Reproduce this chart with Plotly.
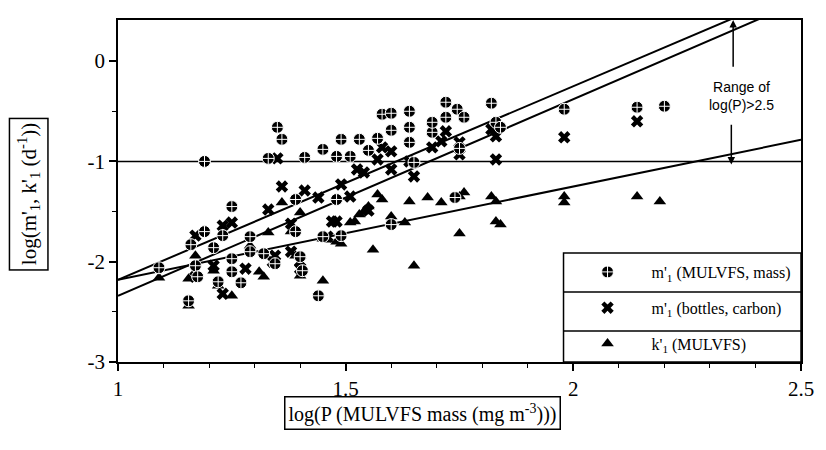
import plotly.graph_objects as go

# ---------------- data ----------------
mass_x = [1.09, 1.16, 1.17, 1.175, 1.155, 1.19, 1.19, 1.21, 1.23, 1.25, 1.25, 1.27, 1.22, 1.25,
          1.29, 1.29, 1.32, 1.345, 1.39, 1.39, 1.40, 1.405, 1.44, 1.45, 1.49, 1.33, 1.35, 1.36,
          1.41, 1.45, 1.48, 1.49, 1.51, 1.53, 1.55, 1.57, 1.58, 1.60, 1.64, 1.60, 1.64, 1.64,
          1.69, 1.69, 1.72, 1.745, 1.76, 1.72, 1.82, 1.83, 1.84, 1.75, 1.65, 1.48, 1.60, 1.74,
          1.98, 2.14, 2.20]
mass_y = [-2.06, -1.83, -2.04, -2.15, -2.39, -1.70, -1.00, -1.86, -1.74, -1.97, -2.10, -2.21, -2.20, -1.45,
          -1.75, -1.90, -1.92, -2.02, -1.70, -1.38, -1.95, -2.09, -2.34, -1.75, -1.74, -0.97, -0.66, -0.78,
          -0.96, -0.88, -0.95, -0.78, -0.95, -0.78, -0.89, -0.77, -0.53, -0.52, -0.50, -0.69, -0.66, -0.81,
          -0.71, -0.61, -0.41, -0.48, -0.56, -0.56, -0.42, -0.61, -0.66, -0.87, -1.01, -1.38, -1.63, -1.36,
          -0.48, -0.46, -0.45]

bottle_x = [1.17, 1.23, 1.25, 1.21, 1.17, 1.23, 1.28, 1.33, 1.34, 1.345, 1.35, 1.36, 1.38, 1.38,
            1.40, 1.40, 1.41, 1.44, 1.46, 1.47, 1.48, 1.49, 1.51, 1.525, 1.54, 1.55, 1.57, 1.58,
            1.60, 1.60, 1.64, 1.65, 1.69, 1.71, 1.72, 1.75, 1.75, 1.82, 1.83, 1.83, 1.98, 2.14]
bottle_y = [-1.74, -1.64, -1.61, -2.04, -2.15, -2.32, -2.07, -1.48, -2.00, -1.94, -0.97, -1.25, -1.62, -1.90,
            -2.00, -2.07, -1.29, -1.36, -1.75, -1.60, -1.60, -1.23, -1.35, -1.08, -1.11, -1.49, -0.98, -0.86,
            -0.90, -1.08, -1.00, -1.15, -0.86, -0.80, -0.70, -0.81, -0.93, -0.68, -0.75, -0.98, -0.76, -0.60]

k_x = [1.09, 1.155, 1.155, 1.17, 1.21, 1.22, 1.25, 1.29, 1.31, 1.32, 1.33, 1.36, 1.38, 1.39,
       1.40, 1.40, 1.45, 1.45, 1.48, 1.46, 1.49, 1.51, 1.52, 1.53, 1.54, 1.55, 1.56, 1.57,
       1.58, 1.60, 1.63, 1.64, 1.65, 1.68, 1.71, 1.75, 1.76, 1.75, 1.82, 1.83, 1.83, 1.84,
       1.98, 1.98, 2.14, 2.19]
k_y = [-2.16, -2.44, -2.17, -1.94, -2.09, -2.24, -2.34, -1.84, -2.10, -2.15, -1.71, -1.41, -1.70, -1.94,
       -1.51, -2.14, -2.19, -1.77, -1.80, -1.78, -1.82, -1.61, -1.60, -1.53, -1.50, -1.45, -1.88, -1.33,
       -1.38, -1.55, -1.61, -1.40, -2.04, -1.36, -1.41, -1.35, -1.31, -1.72, -1.35, -1.40, -1.60, -1.63,
       -1.35, -1.41, -1.35, -1.40]

# regression lines: value at log(P)=1 and slope
fit_at1 = [-2.18, -2.34, -2.18]
fit_slope = [1.93, 1.96, 0.93]
fit_xends = [1.0, 2.5]
ref_level = -1.0

x_ticks = [1, 1.5, 2, 2.5]
y_ticks = [-3, -2, -1, 0]
x_range = [1.0, 2.5]
y_range = [-3.0, 0.41]

legend_labels = ["m'<sub>1</sub> (MULVFS, mass)",
                 "m'<sub>1</sub> (bottles, carbon)",
                 "k'<sub>1</sub> (MULVFS)"]

SERIF = "Liberation Serif, Times New Roman, serif"
SANS = "Liberation Sans, Arial, sans-serif"

W, H = 826, 450
ML, MR, MT, MB = 118, 12, 20, 88
PW, PH = W - ML - MR, H - MT - MB


def px_x(p):
    return (p - ML) / PW


def px_y(p):
    return (H - MB - p) / PH


fig = go.Figure()

# reference line y = -1
fig.add_trace(go.Scatter(x=fit_xends, y=[ref_level, ref_level], mode="lines",
                         line=dict(color="black", width=1.5), showlegend=False, hoverinfo="skip"))
# regression lines
for a, b in zip(fit_at1, fit_slope):
    fig.add_trace(go.Scatter(x=fit_xends, y=[a + b * (x - 1.0) for x in fit_xends], mode="lines",
                             line=dict(color="black", width=2), showlegend=False, hoverinfo="skip"))

fig.add_trace(go.Scatter(x=k_x, y=k_y, mode="markers", name=legend_labels[2], legendgroup="c",
                         legendrank=3,
                         marker=dict(symbol="triangle-up", size=11, color="black", line=dict(width=0))))
fig.add_trace(go.Scatter(x=bottle_x, y=bottle_y, mode="markers", name=legend_labels[1], legendgroup="b",
                         legendrank=2,
                         marker=dict(symbol="x", size=11, color="black", line=dict(width=0))))
fig.add_trace(go.Scatter(x=mass_x, y=mass_y, mode="markers", name=legend_labels[0], legendgroup="a",
                         legendrank=1,
                         marker=dict(symbol="circle-cross", size=12, color="black",
                                     line=dict(color="white", width=1))))

axis_common = dict(showline=True, linecolor="black", linewidth=1.5, mirror=True,
                   ticks="outside", tickcolor="black", tickwidth=1.5, ticklen=7,
                   showgrid=False, zeroline=False,
                   tickfont=dict(family=SERIF, size=21, color="black"))

fig.update_xaxes(range=x_range, tickvals=x_ticks, ticktext=[str(v) for v in x_ticks],
                 minor=dict(dtick=0.1, tick0=1, ticks="outside", ticklen=4, tickcolor="black", tickwidth=1.2),
                 **axis_common)
fig.update_yaxes(range=y_range, tickvals=y_ticks, ticktext=[str(v) for v in y_ticks],
                 minor=dict(dtick=0.5, tick0=-3, ticks="outside", ticklen=4, tickcolor="black", tickwidth=1.2),
                 **axis_common)

# legend box and dividers
lx0 = px_x(572)
shapes = [
    dict(type="rect", xref="paper", yref="paper", x0=lx0, x1=1.0, y0=0.0, y1=px_y(253),
         line=dict(color="black", width=1.5), fillcolor="rgba(0,0,0,0)", layer="above"),
    dict(type="line", xref="paper", yref="paper", x0=lx0, x1=1.0, y0=px_y(292), y1=px_y(292),
         line=dict(color="black", width=1.5), layer="above"),
    dict(type="line", xref="paper", yref="paper", x0=lx0, x1=1.0, y0=px_y(331), y1=px_y(331),
         line=dict(color="black", width=1.5), layer="above"),
]

annotations = [
    # x axis title in a box
    dict(text="log(P (MULVFS mass (mg m<sup>-3</sup>)))", xref="paper", yref="paper",
         x=px_x(428), y=px_y(413), showarrow=False, xanchor="center", yanchor="middle",
         font=dict(family=SERIF, size=20, color="black"),
         bordercolor="black", borderwidth=1.5, borderpad=3),
    # y axis title in a box
    dict(text="log(m'<sub>1</sub>, k'<sub>1</sub> (d<sup>-1</sup>))", xref="paper", yref="paper",
         x=px_x(27), y=px_y(194), showarrow=False, xanchor="center", yanchor="middle",
         textangle=-90, font=dict(family=SERIF, size=21, color="black"),
         bordercolor="black", borderwidth=1.5, borderpad=4),
    # range note
    dict(text="Range of<br>log(P)>2.5", xref="x", yref="y", x=2.37, y=-0.35,
         showarrow=False, align="center", font=dict(family=SANS, size=14, color="black")),
    dict(x=2.351, y=y_range[1], ax=2.351, ay=-0.07, xref="x", yref="y", axref="x", ayref="y",
         showarrow=True, arrowhead=2, arrowsize=1, arrowwidth=1.5, arrowcolor="black", text=""),
    dict(x=2.347, y=-1.03, ax=2.347, ay=-0.62, xref="x", yref="y", axref="x", ayref="y",
         showarrow=True, arrowhead=2, arrowsize=1, arrowwidth=1.5, arrowcolor="black", text=""),
]

fig.update_layout(
    width=W, height=H,
    margin=dict(l=ML, r=MR, t=MT, b=MB, pad=0),
    paper_bgcolor="white", plot_bgcolor="white",
    shapes=shapes, annotations=annotations,
    showlegend=True,
    legend=dict(x=lx0, y=px_y(255), xanchor="left", yanchor="top",
                bgcolor="rgba(0,0,0,0)", borderwidth=0,
                font=dict(family=SERIF, size=16, color="black"),
                itemwidth=78, tracegroupgap=12, traceorder="grouped"),
)

fig.write_html("out.html")
